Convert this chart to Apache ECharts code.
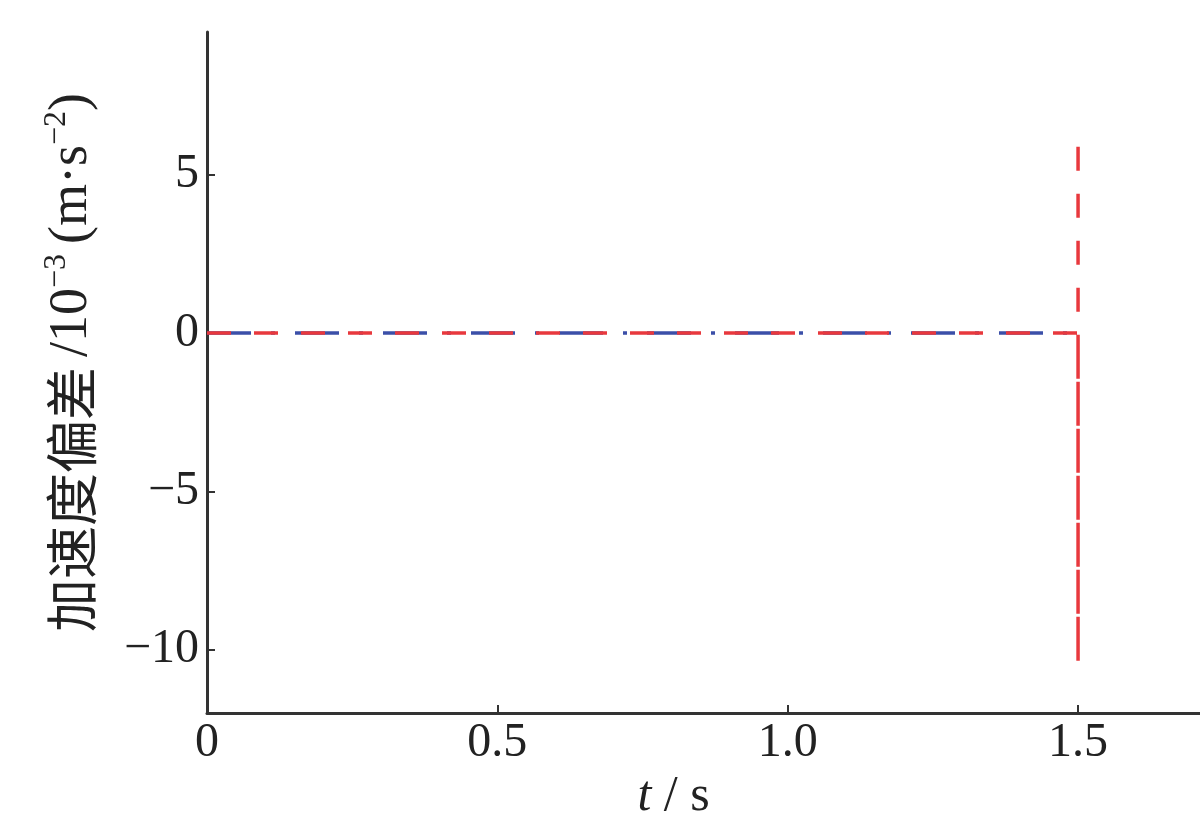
<!DOCTYPE html>
<html>
<head>
<meta charset="utf-8">
<script src="https://cdn.jsdelivr.net/npm/echarts@6/dist/echarts.min.js"></script>
<style>
html,body{margin:0;padding:0;background:#fff;}
#chart{width:1200px;height:836px;}
</style>
</head>
<body>
<div id="chart"></div>
<script>
// Data
var xTicks = [0, 0.5, 1.0, 1.5];
var xTickLabels = ['0', '0.5', '1.0', '1.5'];
var yTicks = [-10, -5, 0, 5];
var yTickLabels = ['\u221210', '\u22125', '0', '5'];
var blueSeries = [[0, 0], [1.5, 0]];
var redSeries = [[0, 0], [1.5, 0], [1.5, -10.4], [1.5, 6.1]];

var serif = '"Liberation Serif", "Times New Roman", serif';
var cjk = '"Noto Sans CJK SC", sans-serif';

var chart = echarts.init(document.getElementById('chart'));
chart.setOption({
  backgroundColor: '#fff',
  animation: false,
  grid: {left: 207, right: 0, top: 32, bottom: 123, containLabel: false},
  xAxis: {
    type: 'value',
    min: 0,
    max: 1.71,
    name: '{i|t}{n| / s}',
    nameLocation: 'middle',
    nameGap: 58,
    nameTextStyle: {
      padding: [0, 60, 0, 0],
      rich: {
        i: {fontFamily: serif, fontStyle: 'italic', fontSize: 50, color: '#222'},
        n: {fontFamily: serif, fontSize: 50, color: '#222'}
      }
    },
    axisLine: {show: true, onZero: false, lineStyle: {color: '#333', width: 3}},
    axisTick: {show: true, inside: true, length: 8, customValues: xTicks, lineStyle: {color: '#333', width: 2}},
    axisLabel: {
      customValues: xTicks,
      margin: 6,
      fontFamily: serif,
      fontSize: 48,
      color: '#222',
      formatter: function (v) {
        var i = xTicks.indexOf(v);
        return i >= 0 ? xTickLabels[i] : '';
      }
    },
    splitLine: {show: false}
  },
  yAxis: {
    type: 'value',
    min: -12,
    max: 9.5,
    name: '{c|加速度偏差}{g| }{n|/10}{s|\u22123}{g| }{n|(m\u00b7s}{s|\u22122}{n|)}',
    nameLocation: 'middle',
    nameRotate: 90,
    nameGap: 104,
    nameTextStyle: {
      padding: [0, 0, 0, 20],
      rich: {
        c: {fontFamily: cjk, fontSize: 53, color: '#222', lineHeight: 62},
        g: {fontFamily: serif, fontSize: 40, color: '#222', lineHeight: 62},
        n: {fontFamily: serif, fontSize: 54, color: '#222', lineHeight: 62},
        s: {fontFamily: serif, fontSize: 32, color: '#222', lineHeight: 36, verticalAlign: 'top'}
      }
    },
    axisLine: {show: true, onZero: false, lineStyle: {color: '#333', width: 3}},
    axisTick: {show: true, inside: true, length: 8, customValues: yTicks, lineStyle: {color: '#333', width: 2}},
    axisLabel: {
      customValues: yTicks,
      margin: 8,
      fontFamily: serif,
      fontSize: 48,
      color: '#222',
      formatter: function (v) {
        var i = yTicks.indexOf(v);
        return i >= 0 ? yTickLabels[i] : '';
      }
    },
    splitLine: {show: false}
  },
  series: [
    {
      type: 'line',
      data: blueSeries,
      showSymbol: false,
      symbol: 'none',
      lineStyle: {color: '#3b4fa8', width: 3.5, type: [44, 20, 4, 20]},
      z: 2
    },
    {
      type: 'line',
      data: redSeries,
      showSymbol: false,
      symbol: 'none',
      lineStyle: {color: '#e8383d', width: 3.5, type: [24, 23]},
      z: 3
    }
  ]
});
</script>
</body>
</html>
